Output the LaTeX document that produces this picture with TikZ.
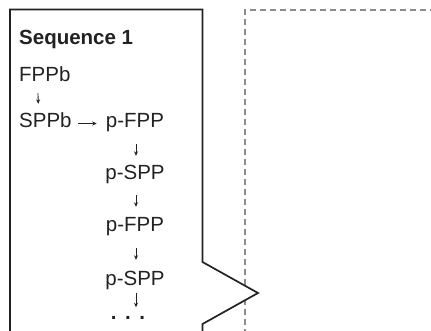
\documentclass[tikz,border=0pt]{standalone}
\usepackage{fontspec}
\setmainfont{Liberation Sans}
\usetikzlibrary{arrows.meta}
\definecolor{frameline}{HTML}{222222}
\definecolor{dashline}{HTML}{8C8C8C}
\begin{document}
\begin{tikzpicture}[x=1pt,y=-1pt,
  lbl/.style={inner sep=0pt,text height=15pt,text depth=4pt,
    font=\fontsize{20.5}{24}\selectfont,text=frameline},
  arr/.style={line width=0.9pt,draw=frameline,-{Stealth[length=4.5pt,width=4pt]}},
  frame/.style={line width=1.7pt,draw=frameline,fill=white,line join=miter},
  ghost/.style={line width=1.5pt,draw=dashline,dash pattern=on 6pt off 4pt}]
  \useasboundingbox (0,0) rectangle (431,331);
  \clip (0,0) rectangle (431,331);

  % dashed panel on the right, open to the right and below
  \draw[ghost] (245,345) -- (245,10) -- (445,10);

  % sequence panel with the notch on its right side
  \draw[frame] (10,340) -- (10,9.5) -- (202.5,9.5) -- (202.5,262)
    -- (258,293) -- (202.5,324) -- (202.5,340);

  % labels
  \node[lbl,anchor=base west,font=\fontsize{20.5}{24}\selectfont\bfseries] (seq) at (19,44.5) {Sequence 1};
  \node[lbl,anchor=base west] (fppb) at (19,82) {FPPb};
  \node[lbl,anchor=base west] (sppb) at (19,128) {SPPb};
  \node[lbl,anchor=base] (pfpp1) at (135,128) {p-FPP};
  \node[lbl,anchor=base] (pspp1) at (135,180) {p-SPP};
  \node[lbl,anchor=base] (pfpp2) at (135,232) {p-FPP};
  \node[lbl,anchor=base] (pspp2) at (135,285) {p-SPP};
  \node[inner sep=0pt,font=\fontsize{20.5}{24}\selectfont\bfseries,text=frameline] (more) at (128,318) {.\hspace{8.5pt}.\hspace{8.5pt}.};

  % connectors
  \draw[arr,shorten <=7pt,shorten >=9pt] ([xshift=-7pt]fppb.south) -- ([xshift=-7pt]sppb.north);
  \draw[arr,shorten <=6.5pt,shorten >=9pt] ([yshift=-1pt]sppb.east) -- ([yshift=-1pt]pfpp1.west);
  \draw[arr,shorten <=12pt,shorten >=9pt] ([xshift=1pt]pfpp1.south) -- ([xshift=1pt]pspp1.north);
  \draw[arr,shorten <=11pt,shorten >=10pt] ([xshift=1pt]pspp1.south) -- ([xshift=1pt]pfpp2.north);
  \draw[arr,shorten <=12pt,shorten >=10pt] ([xshift=1pt]pfpp2.south) -- ([xshift=1pt]pspp2.north);
  \draw[arr,shorten <=4pt,shorten >=9pt] (pspp2.south) ++(1,0) coordinate (tailx) -- (tailx |- more.north);
\end{tikzpicture}
\end{document}
